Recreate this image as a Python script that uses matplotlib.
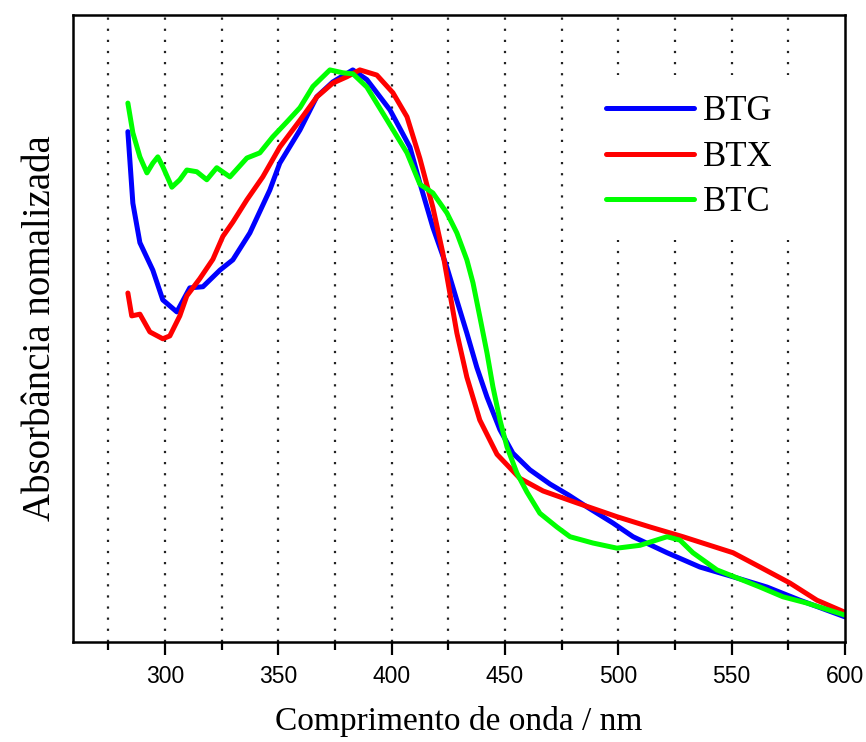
import numpy as np
import matplotlib.pyplot as plt
from matplotlib.ticker import MultipleLocator

# wavelength (nm) and normalised absorbance
btg_nm = [283.7, 285.9, 289.0, 294.7, 299.1, 305.3, 311.0, 316.8, 324.3, 330.0,
          337.5, 346.3, 350.7, 359.6, 367.0, 374.1, 382.9, 389.1, 399.3, 408.1,
          412.5, 418.2, 424.4, 428.8, 433.2, 437.6, 442.1, 447.8, 453.5, 461.0,
          469.9, 478.0, 486.2, 497.6, 506.5, 521.5, 536.0, 550.6, 565.6, 580.1,
          599.9]
btg_abs = [0.892, 0.767, 0.698, 0.650, 0.598, 0.577, 0.619, 0.621, 0.650, 0.668,
           0.715, 0.790, 0.837, 0.895, 0.953, 0.979, 1.000, 0.983, 0.930, 0.865,
           0.802, 0.725, 0.655, 0.597, 0.540, 0.480, 0.428, 0.371, 0.330, 0.301,
           0.276, 0.257, 0.236, 0.208, 0.184, 0.156, 0.131, 0.114, 0.096, 0.073,
           0.044]

btx_nm = [283.7, 285.4, 289.0, 293.4, 299.1, 302.2, 306.6, 309.7, 315.4, 321.2,
          325.6, 330.0, 336.2, 343.2, 350.7, 359.6, 367.1, 374.1, 380.3, 386.0,
          393.5, 400.6, 406.8, 412.5, 418.2, 422.6, 425.7, 428.8, 433.2, 438.9,
          446.5, 456.6, 466.8, 481.8, 499.4, 514.0, 528.5, 550.6, 562.5, 575.7,
          587.6, 599.9]
btx_abs = [0.610, 0.570, 0.573, 0.542, 0.530, 0.535, 0.570, 0.605, 0.635, 0.669,
           0.709, 0.734, 0.773, 0.813, 0.865, 0.912, 0.953, 0.977, 0.988, 1.000,
           0.991, 0.960, 0.918, 0.845, 0.760, 0.680, 0.610, 0.540, 0.463, 0.388,
           0.328, 0.286, 0.264, 0.243, 0.219, 0.201, 0.184, 0.156, 0.131, 0.103,
           0.073, 0.052]

btc_nm = [283.7, 285.9, 289.0, 292.1, 294.7, 296.9, 299.1, 303.1, 306.6, 309.7,
          314.1, 318.5, 322.9, 328.7, 336.2, 341.9, 347.6, 353.8, 359.6, 365.3,
          372.8, 378.5, 383.0, 389.1, 397.9, 406.8, 412.5, 418.2, 424.4, 428.8,
          433.2, 435.9, 438.9, 442.1, 444.7, 447.8, 450.9, 455.3, 459.7, 465.4,
          472.9, 478.7, 488.8, 499.4, 509.6, 521.5, 527.2, 532.9, 543.5, 552.4,
          562.5, 572.6, 583.2, 599.9]
btc_abs = [0.942, 0.890, 0.848, 0.820, 0.837, 0.848, 0.831, 0.795, 0.808, 0.825,
           0.822, 0.808, 0.829, 0.813, 0.846, 0.855, 0.883, 0.909, 0.934, 0.971,
           1.000, 0.995, 0.993, 0.970, 0.913, 0.855, 0.800, 0.785, 0.750, 0.715,
           0.668, 0.628, 0.569, 0.505, 0.446, 0.388, 0.341, 0.295, 0.262, 0.225,
           0.201, 0.184, 0.173, 0.164, 0.169, 0.184, 0.178, 0.156, 0.126, 0.112,
           0.096, 0.079, 0.068, 0.047]

fig = plt.figure(figsize=(8.66, 7.42), dpi=100)
ax = fig.add_axes([0.0843, 0.1348, 0.8915, 0.845])

line_kw = dict(lw=3.6, solid_joinstyle='round', solid_capstyle='round')
ax.plot(btg_nm, btg_abs, color='#0000ff', label='BTG', **line_kw)
ax.plot(btx_nm, btx_abs, color='#ff0000', label='BTX', **line_kw)
ax.plot(btc_nm, btc_abs, color='#00ff00', label='BTC', **line_kw)

ax.set_xlim(259.5, 600)
ax.set_ylim(0, 1.096)

# dotted vertical lines every 25 nm
for x in np.arange(275, 600, 25):
    ax.axvline(x, color='#222222', lw=1.6, ls=(0, (1.0, 4.0)), zorder=0)

ax.xaxis.set_major_locator(MultipleLocator(50))
ax.xaxis.set_minor_locator(MultipleLocator(25))
ax.tick_params(axis='x', which='major', direction='out', length=9.5, width=1.6, pad=7,
               labelsize=16.5, labelfontfamily='Liberation Sans')
ax.tick_params(axis='x', which='minor', direction='out', length=6, width=1.6)
ax.set_yticks([])
for s in ax.spines.values():
    s.set_linewidth(1.8)

ax.set_xlabel('Comprimento de onda / nm', family='Liberation Serif', fontsize=24, labelpad=13)
ax.set_ylabel('Absorbância nomalizada', family='Liberation Serif', fontsize=28, labelpad=10)

leg = ax.legend(loc='upper left', bbox_to_anchor=(0.663, 0.905), borderaxespad=0,
                frameon=True, fancybox=False, framealpha=1, edgecolor='none',
                borderpad=0.6, labelspacing=0.36, handlelength=2.55, handletextpad=0.25,
                prop={'family': 'Liberation Serif', 'size': 25})

fig.savefig('out.png', dpi=100)
